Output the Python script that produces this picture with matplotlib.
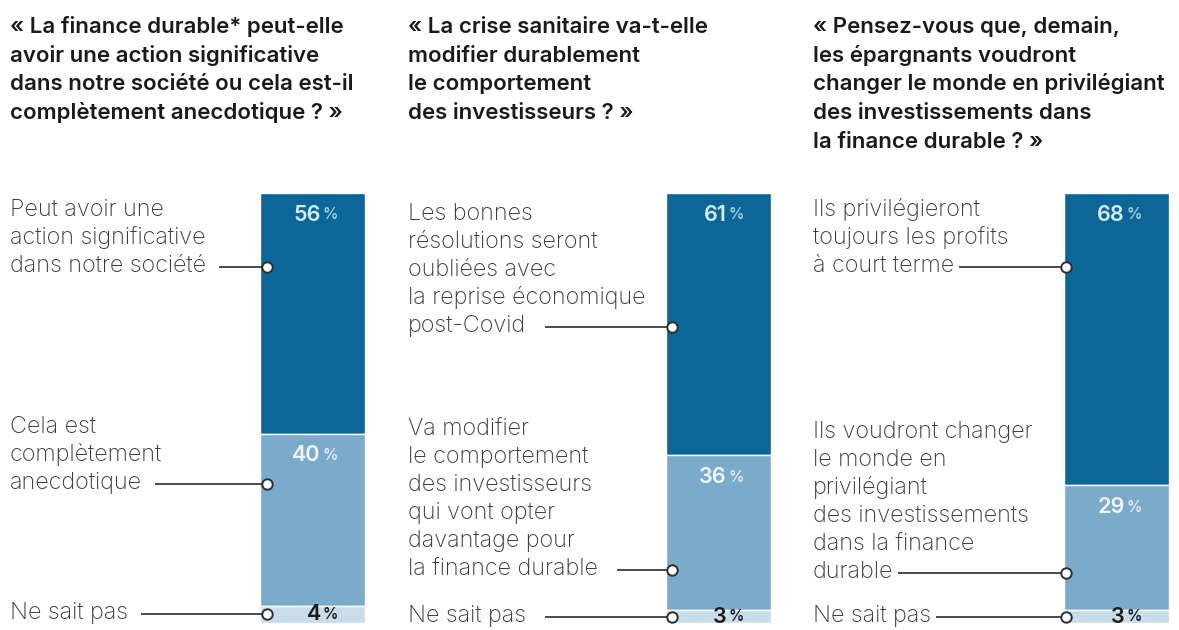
import matplotlib
matplotlib.use("Agg")
import matplotlib.pyplot as plt

plt.rcParams['font.family'] = ['Inter', 'DejaVu Sans']

# survey data: share of answers (%) per question, top to bottom
values_q1 = [56, 40, 4]
values_q2 = [61, 36, 3]
values_q3 = [68, 29, 3]

titles = [
    ["« La finance durable* peut-elle", "avoir une action significative",
     "dans notre société ou cela est-il", "complètement anecdotique ? »"],
    ["« La crise sanitaire va-t-elle", "modifier durablement",
     "le comportement", "des investisseurs ? »"],
    ["« Pensez-vous que, demain,", "les épargnants voudront",
     "changer le monde en privilégiant", "des investissements dans",
     "la finance durable ? »"],
]

answers_q1 = [["Peut avoir une", "action significative", "dans notre société"],
              ["Cela est", "complètement", "anecdotique"],
              ["Ne sait pas"]]
answers_q2 = [["Les bonnes", "résolutions seront", "oubliées avec",
               "la reprise économique", "post-Covid"],
              ["Va modifier", "le comportement", "des investisseurs",
               "qui vont opter", "davantage pour", "la finance durable"],
              ["Ne sait pas"]]
answers_q3 = [["Ils privilégieront", "toujours les profits", "à court terme"],
              ["Ils voudront changer", "le monde en", "privilégiant",
               "des investissements", "dans la finance", "durable"],
              ["Ne sait pas"]]

all_values = [values_q1, values_q2, values_q3]
all_answers = [answers_q1, answers_q2, answers_q3]

# layout (pixels)
W, H = 1179, 630
col_x = [10, 408, 813]
bar_x = [260, 666, 1064]
bar_w = 105
bar_top, bar_h = 193, 430
dot_inset = [7, 6, 2]
leader_gap = [13, 19, 5]
leader_y = [[267, 484], [327, 570], [267, 573]]

colors = ['#0d6698', '#7baacb', '#c9dcea']
num_colors = ['#d6edf6', '#f2f7fb', '#1b1b1b']
pct_colors = ['#a8cfe4', '#e0ecf5', '#1b1b1b']

fig = plt.figure(figsize=(W / 100, H / 100), dpi=100)
fig.patch.set_facecolor('white')

bar_axes = []
for i in range(3):
    ax = fig.add_axes([bar_x[i] / W, 1 - (bar_top + bar_h) / H, bar_w / W, bar_h / H])
    ax.set_xlim(-0.5, 0.5)
    ax.set_ylim(100, 0)
    ax.axis('off')
    bottom = 0
    for j, v in enumerate(all_values[i]):
        ax.bar(0, v, bottom=bottom, width=1, color=colors[j],
               edgecolor='white', linewidth=1.0)
        if j < 2:
            ypos, off = bottom, -15.5
        else:
            ypos, off = bottom + v / 2, 0
        ax.annotate(str(v), (0, ypos), xytext=(6, off), textcoords='offset points',
                    ha='right', va='center', fontsize=15.5, fontweight='semibold',
                    color=num_colors[j])
        ax.annotate('%', (0, ypos), xytext=(7, off - 0.3), textcoords='offset points',
                    ha='left', va='center', fontsize=11, fontweight='semibold',
                    color=pct_colors[j])
        bottom += v
    bar_axes.append(ax)

ov = fig.add_axes([0, 0, 1, 1], zorder=5)
ov.set_xlim(0, W)
ov.set_ylim(H, 0)
ov.axis('off')
ov.patch.set_alpha(0)

renderer = fig.canvas.get_renderer()
inv = ov.transData.inverted()

for i in range(3):
    # question title
    for k, line in enumerate(titles[i]):
        ov.text(col_x[i], 33 + k * 28.7, line, fontsize=16, fontweight='semibold',
                color='#1a1a1a', ha='left', va='baseline')
    ax = bar_axes[i]
    vals = all_values[i]
    # y of the "Ne sait pas" leader: middle of the last segment
    last_mid = sum(vals) - vals[-1] / 2
    y_last = inv.transform(ax.transData.transform((0, last_mid)))[1]
    ys = leader_y[i] + [y_last]
    for j, lines in enumerate(all_answers[i]):
        y = ys[j]
        n = len(lines)
        t = None
        for k, line in enumerate(lines):
            t = ov.text(col_x[i], y + 5 - (n - 1 - k) * 28, line, fontsize=16.8,
                        fontweight='light', color='#3a3a3a', ha='left', va='baseline')
        x_end = inv.transform(t.get_window_extent(renderer).get_points())[1][0]
        xd = bar_x[i] + dot_inset[i]
        ov.plot([x_end + leader_gap[i], xd], [y, y], color='#3c3c3c', lw=1.3,
                solid_capstyle='butt')
        ov.plot(xd, y, 'o', ms=7.5, mfc='white', mec='#2e2e2e', mew=1.4)

fig.savefig("out.png", dpi=100, facecolor='white')
